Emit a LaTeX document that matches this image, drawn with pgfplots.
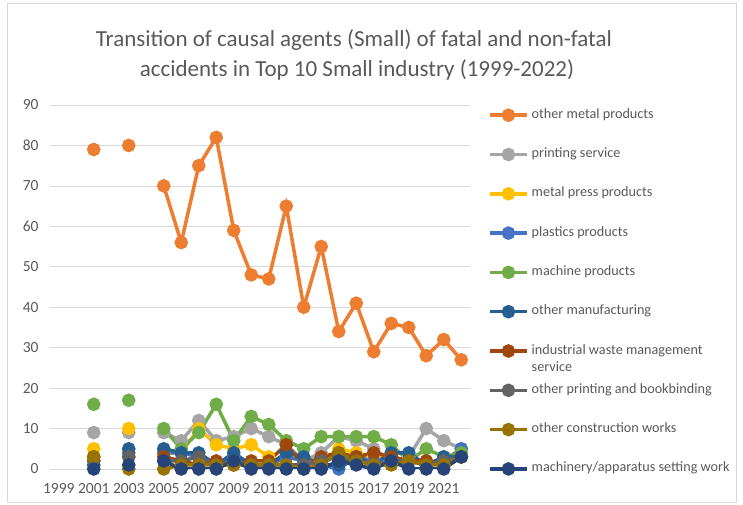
\documentclass[border=0pt]{standalone}
\usepackage{pgfplots}
\usepackage{pgfplotstable}
\pgfplotsset{compat=1.18}
\usepackage{fontspec}
\setmainfont{Carlito}
\definecolor{cOrange}{HTML}{ED7D31}
\definecolor{cGray}{HTML}{A5A5A5}
\definecolor{cGold}{HTML}{FFC000}
\definecolor{cBlue}{HTML}{4472C4}
\definecolor{cGreen}{HTML}{70AD47}
\definecolor{cMidBlue}{HTML}{255E91}
\definecolor{cBrown}{HTML}{9E480E}
\definecolor{cDGray}{HTML}{636363}
\definecolor{cDGold}{HTML}{997300}
\definecolor{cNavy}{HTML}{264478}
\definecolor{txt}{HTML}{595959}
\definecolor{gridc}{HTML}{D9D9D9}
\pgfplotstableread{
year om ps mp pl mc omf iw opb oc mas
2001 79 9 5 2 16 1 3 2 3 0
2002 nan nan nan nan nan nan nan nan nan nan
2003 80 9 10 4 17 5 3 3 0 1
2004 nan nan nan nan nan nan nan nan nan nan
2005 70 9 4 4 10 5 3 2 0 2
2006 56 7 4 4 5 4 2 2 1 0
2007 75 12 10 3 9 4 1 3 1 0
2008 82 7 6 1 16 1 2 1 1 0
2009 59 8 5 3 7 4 1 2 1 2
2010 48 10 6 1 13 1 2 1 1 0
2011 47 8 3 1 11 1 2 1 1 0
2012 65 6 1 3 7 4 6 1 1 0
2013 40 2 1 2 5 3 1 1 0 0
2014 55 4 2 1 8 1 3 2 1 0
2015 34 8 5 0 8 1 4 3 4 2
2016 41 7 4 3 8 3 3 2 2 1
2017 29 5 3 2 8 1 4 1 1 0
2018 36 2 3 3 6 4 3 2 1 2
2019 35 3 2 2 2 4 2 2 2 0
2020 28 10 2 1 5 1 2 1 1 0
2021 32 7 1 2 3 3 1 2 1 0
2022 27 5 3 5 4 3 3 3 3 3
}\data
\begin{document}
\begin{tikzpicture}[x=1pt,y=1pt]
\path[use as bounding box] (0,0) rectangle (743,505);
\draw[gridc, line width=0.75pt] (7,3) rectangle (736,502);
\begin{axis}[
  at={(50pt,36pt)}, anchor=south west, scale only axis,
  width=420pt, height=364pt,
  xmin=1998.5, xmax=2022.5, ymin=0, ymax=90,
  xtick={1999,2001,...,2021}, ytick={0,10,...,90},
  /pgf/number format/1000 sep={},
  /pgf/number format/assume math mode=true,
  axis line style={draw=none},
  major tick length=0pt,
  ymajorgrids, major grid style={gridc, line width=0.75pt},
  tick label style={font=\fontsize{15.5}{18}\selectfont, text=txt},
  xticklabel style={yshift=-10.5pt},
  yticklabel style={xshift=-8pt},
  unbounded coords=jump,
  every axis plot/.append style={line width=3.5pt, mark=*, mark size=5pt, mark options={solid}},
  legend cell align=left,
  legend image code/.code={\draw[mark repeat=2,mark phase=2,#1] plot coordinates {(0pt,0pt)(18.5pt,0pt)(37pt,0pt)};},
  legend style={draw=none, fill=none, at={(1.0429,0.989)}, anchor=north west,
    inner sep=0pt, row sep=27.3pt, column sep=3pt,
    nodes={font=\fontsize{14.2}{17}\selectfont, text=txt, text height=9pt, text depth=3pt, inner sep=0pt}},
]
\addplot[color=cOrange] table[x=year,y=om]{\data};
\addlegendentry{other metal products}
\addplot[color=cGray] table[x=year,y=ps]{\data};
\addlegendentry{printing service}
\addplot[color=cGold] table[x=year,y=mp]{\data};
\addlegendentry{metal press products}
\addplot[color=cBlue] table[x=year,y=pl]{\data};
\addlegendentry{plastics products}
\addplot[color=cGreen] table[x=year,y=mc]{\data};
\addlegendentry{machine products}
\addplot[color=cMidBlue] table[x=year,y=omf]{\data};
\addlegendentry{other manufacturing}
\addplot[color=cBrown] table[x=year,y=iw]{\data};
\addlegendentry{\parbox[t]{200pt}{industrial waste management\\service}}
\addplot[color=cDGray] table[x=year,y=opb]{\data};
\addlegendentry{other printing and bookbinding}
\addplot[color=cDGold] table[x=year,y=oc]{\data};
\addlegendentry{other construction works}
\addplot[color=cNavy] table[x=year,y=mas]{\data};
\addlegendentry{machinery/apparatus setting work}
\end{axis}
\node[font=\fontsize{23}{27}\selectfont, text=txt, anchor=base] at (354,458) {Transition of causal agents (Small) of fatal and non-fatal};
\node[font=\fontsize{23}{27}\selectfont, text=txt, anchor=base] at (357,428) {accidents in Top 10 Small industry (1999-2022)};
\end{tikzpicture}
\end{document}
